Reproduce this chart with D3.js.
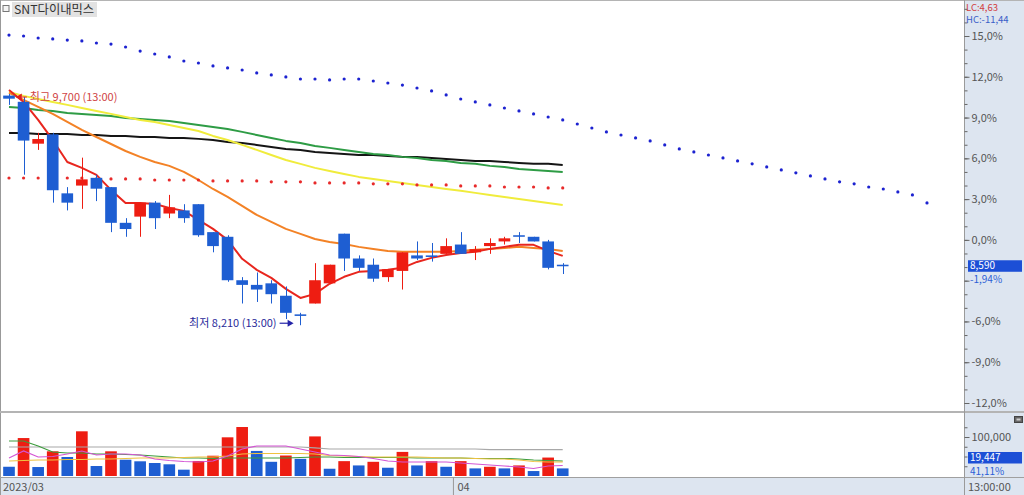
<!DOCTYPE html>
<html><head><meta charset="utf-8">
<script src="https://cdn.jsdelivr.net/npm/d3@7"></script>
<style>html,body{margin:0;padding:0;background:#fff;overflow:hidden}
text{font-family:"Noto Sans CJK KR","Noto Sans",sans-serif;}</style>
</head><body>
<svg id="c" width="1024" height="495"></svg>
<script>
// ---------------- data ----------------
const title = "SNT다이내믹스";
const basePrice = 8760;
const xTickLabels = ["2023/03", "04"];
const xTickIndex = [0, 31];
const lastTimeLabel = "13:00:00";
const highLabelTime = "13:00";
const lowLabelTime = "13:00";

const open  = [9690,9650,9380,9440,9060,9110,9160,9100,8870,8910,9000,8930,8950,8990,8810,8780,8500,8470,8480,8400,8280,8350,8480,8800,8640,8600,8520,8560,8660,8660,8670,8730,8680,8720,8750,8790,8780,8750,8600];
const high  = [9700,9680,9450,9450,9100,9290,9180,9100,8900,9000,9010,9050,8990,8990,8810,8790,8520,8550,8500,8460,8290,8610,8600,8800,8660,8640,8570,8680,8750,8740,8770,8810,8720,8770,8780,8810,8780,8760,8610];
const low   = [9630,9180,9340,9000,8950,8960,9010,8810,8780,8780,8830,8900,8870,8780,8680,8490,8350,8360,8350,8250,8210,8350,8480,8560,8560,8490,8490,8440,8630,8620,8670,8670,8630,8670,8730,8740,8750,8570,8540];
const close = [9670,9400,9410,9080,9000,9150,9090,8870,8830,9000,8900,8970,8900,8790,8720,8500,8470,8440,8410,8290,8270,8500,8600,8640,8580,8510,8570,8680,8640,8650,8720,8670,8700,8740,8770,8780,8750,8580,8590];

const ma5   = [9726,9649,9533,9404,9262,9224,9179,9082,8998,8998,8992,8966,8947,8889,8831,8760,8638,8567,8515,8444,8386,8412,8477,8522,8554,8560,8567,8580,8618,8644,8663,8676,8683,8702,8715,8728,8728,8689,8657];
const ma20  = [9707,9662,9617,9572,9520,9469,9423,9378,9333,9295,9262,9237,9198,9146,9088,9037,8979,8921,8876,8831,8799,8766,8747,8734,8715,8702,8689,8683,8683,8683,8683,8689,8696,8702,8708,8715,8708,8702,8689];
const ma60  = [9713,9688,9668,9649,9630,9610,9591,9572,9552,9533,9520,9501,9481,9462,9430,9404,9372,9340,9307,9275,9250,9224,9204,9185,9166,9153,9140,9127,9114,9101,9088,9076,9063,9050,9037,9024,9011,8998,8985];
const ma120 = [9617,9610,9597,9591,9578,9572,9565,9559,9546,9539,9533,9526,9514,9501,9488,9475,9456,9436,9417,9398,9385,9365,9353,9340,9327,9314,9307,9295,9288,9275,9269,9256,9250,9237,9230,9217,9211,9204,9198];
const ma240 = [9449,9449,9443,9443,9443,9436,9436,9430,9430,9423,9423,9417,9417,9411,9404,9391,9385,9372,9359,9346,9340,9327,9320,9314,9307,9307,9301,9295,9295,9288,9282,9275,9269,9269,9262,9256,9250,9250,9243];
const redDots = [9159,9159,9159,9159,9159,9159,9153,9153,9153,9153,9146,9146,9146,9146,9140,9140,9140,9140,9134,9134,9134,9127,9127,9127,9127,9121,9121,9121,9114,9114,9114,9108,9108,9108,9101,9101,9101,9095,9095];
const blueDots = [10080,10074,10061,10055,10048,10042,10029,10022,10003,9977,9958,9939,9913,9900,9881,9868,9855,9836,9823,9810,9797,9797,9791,9797,9797,9784,9771,9758,9739,9720,9694,9668,9649,9630,9610,9591,9572,9552,9533,9507,9481,9456,9436,9417,9398,9372,9346,9327,9307,9288,9269,9250,9230,9211,9192,9172,9153,9134,9121,9101,9088,9069,9050,8998];

const volume = [23700,97300,23000,63300,48700,114600,25600,63300,41800,37700,33300,30000,16200,38500,52000,99200,125600,64300,36400,52500,44000,101500,18600,38100,27100,36400,21200,61800,27100,38100,23700,38100,19500,23700,19500,27100,12700,47300,19447];
const volMaGray = [74400,74400,74400,74400,74400,74400,74400,74400,74400,74400,74400,74400,74400,74400,74400,74400,74400,74400,74400,74400,74400,72000,69200,69200,69200,69200,69200,69200,69200,69200,69200,69200,69200,67700,67700,67700,67700,67700,67700];
const volMaGreen = [89700,89700,76900,61500,59000,59000,56400,56400,55100,53800,51300,48700,46200,46200,44900,46200,46200,46200,46200,46200,47400,48700,48700,47400,47400,47400,47400,47400,46200,46200,46200,46200,44900,44900,44900,43600,41000,39700,38500];
const volMaPink = [46200,64100,48700,50000,56400,64100,53800,56400,56400,53800,43600,39700,37200,35900,38500,51300,69200,76900,76900,76900,69200,61500,53800,52600,50000,44900,38500,35900,35900,35900,35900,33300,30800,28200,25600,23100,19200,25600,26900];
const volMaYellow = [38500,39700,41000,41000,42300,42300,43600,43600,44900,46200,46200,46200,47400,48700,48700,51300,56400,57700,57700,57700,57700,56400,52600,51300,50000,48700,48700,48700,48700,47400,46200,46200,44900,43600,43600,41000,37200,35900,35900];

const pctTicks = [15,12,9,6,3,0,-3,-6,-9,-12];
const volTicks = [100000];

// ---------------- layout ----------------
const svg = d3.select("#c");
const axisX = 964, volTop = 412, volBase = 476, bandTop = 477;
const RED = "#ee1d12", BLUE = "#1e5ed2";
const LAT = '"Liberation Sans","Noto Sans",sans-serif';

const x = d3.scaleLinear().domain([0, 63]).range([9, 927]);
const step = x(1) - x(0);
const bw = step * 0.8;
const yP = d3.scaleLinear().domain([-12, 15]).range([403, 36]);
const pct = p => (p / basePrice - 1) * 100;
const y = p => yP(pct(p));
const yV = d3.scaleLinear().domain([0, 100000]).range([volBase, 437]);
const fmtPct = (v, d) => (v < 0 ? "-" : "") + Math.abs(v).toFixed(d).replace(".", ",");

svg.append("rect").attr("width", 1024).attr("height", 495).attr("fill", "#fff");
svg.append("rect").attr("x", axisX).attr("y", 0).attr("width", 1024 - axisX).attr("height", bandTop).attr("fill", "#dde5f0");
svg.append("rect").attr("x", 0).attr("y", bandTop).attr("width", 1024).attr("height", 495 - bandTop).attr("fill", "#dde5f0");

svg.append("defs").append("clipPath").attr("id", "mainClip")
  .append("rect").attr("x", 1).attr("y", 1).attr("width", axisX - 1).attr("height", volTop - 2);
const main = svg.append("g").attr("clip-path", "url(#mainClip)");

// MA lines
const idxLine = d3.line().x((d, i) => x(i)).y(d => y(d));
[[ma240, "#151515"], [ma120, "#2e9c45"], [ma60, "#f0ec3c"], [ma20, "#f38226"], [ma5, "#e8261e"]]
  .forEach(([arr, col]) => {
    main.append("path").attr("d", idxLine(arr)).attr("fill", "none")
      .attr("stroke", col).attr("stroke-width", 2).attr("stroke-linejoin", "round");
  });
// dotted series
main.selectAll(".bd").data(blueDots).join("circle")
  .attr("cx", (d, i) => x(i)).attr("cy", d => y(d)).attr("r", 1.6).attr("fill", "#1c22d0");
main.selectAll(".rd").data(redDots).join("circle")
  .attr("cx", (d, i) => x(i)).attr("cy", d => y(d)).attr("r", 1.6).attr("fill", "#e82a2a");

// candles
const candles = main.append("g");
open.forEach((o, i) => {
  const c = close[i], col = c > o ? RED : BLUE;
  const cx = Math.round(x(i)) + 0.5;
  candles.append("line").attr("x1", cx).attr("x2", cx).attr("y1", y(high[i])).attr("y2", y(low[i]))
    .attr("stroke", col).attr("stroke-width", 1);
  const top = y(Math.max(o, c)), bot = y(Math.min(o, c));
  candles.append("rect").attr("x", x(i) - bw / 2).attr("y", top).attr("width", bw)
    .attr("height", Math.max(1.5, bot - top)).attr("fill", col);
});

// high / low annotations
const hiIdx = high.indexOf(d3.max(high)), loIdx = low.indexOf(d3.min(low));
const hy = y(high[hiIdx]) + 3, hx = x(hiIdx) + bw / 2 + 1;
main.append("path").attr("d", `M${hx},${hy}L${hx + 6},${hy - 3.5}L${hx + 6},${hy + 3.5}Z`).attr("fill", "#e02020");
main.append("line").attr("x1", hx + 6).attr("x2", hx + 11).attr("y1", hy).attr("y2", hy).attr("stroke", "#e02020");
main.append("text").attr("x", hx + 14).attr("y", hy + 4).attr("font-size", 11).attr("fill", "#d04545")
  .text(`최고 ${d3.format(",")(high[hiIdx])} (${highLabelTime})`);
const ly = y(low[loIdx]) - 2, lx = x(loIdx) - bw / 2 - 1;
main.append("line").attr("x1", lx - 14).attr("x2", lx - 4).attr("y1", ly).attr("y2", ly).attr("stroke", "#2424a8").attr("stroke-width", 1.2);
main.append("path").attr("d", `M${lx},${ly}L${lx - 6},${ly - 3.5}L${lx - 6},${ly + 3.5}Z`).attr("fill", "#2424a8");
main.append("text").attr("x", lx - 17).attr("y", ly + 4).attr("text-anchor", "end").attr("font-size", 11).attr("fill", "#2a2a9a")
  .text(`최저 ${d3.format(",")(low[loIdx])} (${lowLabelTime})`);

// title
svg.append("rect").attr("x", 3).attr("y", 5.5).attr("width", 6).attr("height", 6).attr("fill", "#f4f4f4").attr("stroke", "#777");
svg.append("rect").attr("x", 12).attr("y", 2).attr("width", 85).attr("height", 15).attr("fill", "#e2e2e2");
svg.append("text").attr("x", 14).attr("y", 14).attr("font-size", 12.3).attr("fill", "#333").text(title);

// volume panel
const vol = svg.append("g");
vol.selectAll("rect.v").data(volume).join("rect")
  .attr("x", (d, i) => x(i) - bw / 2).attr("y", d => yV(d)).attr("width", bw)
  .attr("height", d => volBase - yV(d))
  .attr("fill", (d, i) => (i > 0 && d > volume[i - 1]) ? RED : BLUE);
const vLine = d3.line().x((d, i) => x(i)).y(d => yV(d));
[[volMaGray, "#a8a8a8"], [volMaGreen, "#3c9c3c"], [volMaYellow, "#efc240"], [volMaPink, "#d455d4"]]
  .forEach(([arr, col]) => vol.append("path").attr("d", vLine(arr)).attr("fill", "none").attr("stroke", col).attr("stroke-width", 1.2));

// frame lines
svg.append("line").attr("x1", 0).attr("x2", 1024).attr("y1", 0.5).attr("y2", 0.5).attr("stroke", "#b4b4b4");
svg.append("line").attr("x1", 0.5).attr("x2", 0.5).attr("y1", 0).attr("y2", 495).attr("stroke", "#999");
svg.append("line").attr("x1", 0).attr("x2", 1024).attr("y1", volTop).attr("y2", volTop).attr("stroke", "#b4b4b4").attr("stroke-width", 2);
svg.append("line").attr("x1", 0).attr("x2", 1024).attr("y1", bandTop + 0.5).attr("y2", bandTop + 0.5).attr("stroke", "#a0a0a0");
svg.append("line").attr("x1", axisX + 0.5).attr("x2", axisX + 0.5).attr("y1", 0).attr("y2", 495).attr("stroke", "#9a9a9a");

// right price axis (percent)
const minor = d3.range(-12, 18, 1);
const pAx = svg.append("g").attr("transform", `translate(${axisX + 0.5},0)`);
pAx.call(d3.axisRight(yP).tickValues(minor).tickSize(3).tickFormat(""));
pAx.call(g => g.select(".domain").remove());
const pAx2 = svg.append("g").attr("transform", `translate(${axisX + 0.5},0)`);
pAx2.call(d3.axisRight(yP).tickValues(pctTicks).tickSize(5).tickPadding(2)
  .tickFormat(d => d === -3 ? "" : fmtPct(d, 1) + "%"));
pAx2.call(g => g.select(".domain").remove());
[pAx, pAx2].forEach(g => { g.selectAll("line").attr("stroke", "#666"); g.selectAll("text").attr("font-size", 11).attr("fill", "#555").attr("font-family", '"Noto Sans CJK KR","Noto Sans",sans-serif'); });

// LC / HC
const last = close[close.length - 1];
const lc = (last - d3.min(low)) / d3.min(low) * 100;
const hc = (last - d3.max(high)) / d3.max(high) * 100;
svg.append("text").attr("x", 966).attr("y", 10.5).attr("font-size", 9.5).attr("font-family", LAT).attr("fill", "#d24040").text("LC:" + fmtPct(lc, 2));
svg.append("text").attr("x", 966).attr("y", 23).attr("font-size", 9.5).attr("font-family", LAT).attr("fill", "#3a5ec8").text("HC:" + fmtPct(hc, 2));

// last price label
const lpy = y(last);
svg.append("rect").attr("x", 968).attr("y", lpy - 6).attr("width", 54).attr("height", 11.5).attr("fill", "#1c4fd6");
svg.append("text").attr("x", 970).attr("y", lpy + 3).attr("font-size", 10).attr("font-family", LAT).attr("fill", "#fff").text(d3.format(",")(last));
svg.append("text").attr("x", 970).attr("y", lpy + 16.5).attr("font-size", 10).attr("font-family", LAT).attr("fill", "#2c5ed6").text(fmtPct(pct(last), 2) + "%");

// volume axis
const vAx = svg.append("g").attr("transform", `translate(${axisX + 0.5},0)`);
vAx.call(d3.axisRight(yV).tickValues([25000, 50000, 75000, 125000]).tickSize(3).tickFormat(""));
vAx.call(g => g.select(".domain").remove());
const vAx2 = svg.append("g").attr("transform", `translate(${axisX + 0.5},0)`);
vAx2.call(d3.axisRight(yV).tickValues(volTicks).tickSize(5).tickPadding(2).tickFormat(d3.format(",")));
vAx2.call(g => g.select(".domain").remove());
[vAx, vAx2].forEach(g => { g.selectAll("line").attr("stroke", "#666"); g.selectAll("text").attr("font-size", 11).attr("fill", "#555").attr("font-family", '"Noto Sans CJK KR","Noto Sans",sans-serif'); });
svg.append("rect").attr("x", 1014.5).attr("y", 416.5).attr("width", 8).attr("height", 6).attr("fill", "#666").attr("stroke", "#444");
svg.append("rect").attr("x", 1016.5).attr("y", 418.5).attr("width", 4).attr("height", 2).attr("fill", "#ccc");

const lastVol = volume[volume.length - 1], prevVol = volume[volume.length - 2];
svg.append("rect").attr("x", 968).attr("y", 452).attr("width", 54).attr("height", 11.5).attr("fill", "#1c4fd6");
svg.append("text").attr("x", 970).attr("y", 461).attr("font-size", 10).attr("font-family", LAT).attr("fill", "#fff").text(d3.format(",")(lastVol));
svg.append("text").attr("x", 970).attr("y", 474.5).attr("font-size", 10).attr("font-family", LAT).attr("fill", "#2c5ed6").text(fmtPct(lastVol / prevVol * 100, 2) + "%");

// bottom time axis
xTickLabels.forEach((lab, k) => {
  const i = xTickIndex[k];
  const px = i === 0 ? 3 : x(i) - step / 2 + 4;
  if (i > 0) svg.append("line").attr("x1", x(i) - step / 2).attr("x2", x(i) - step / 2).attr("y1", bandTop).attr("y2", 495).attr("stroke", "#999");
  svg.append("text").attr("x", px).attr("y", 491).attr("font-size", 11).attr("fill", "#555").text(lab);
});
svg.append("text").attr("x", 968).attr("y", 491).attr("font-size", 11).attr("fill", "#555").text(lastTimeLabel);
</script>
</body></html>
